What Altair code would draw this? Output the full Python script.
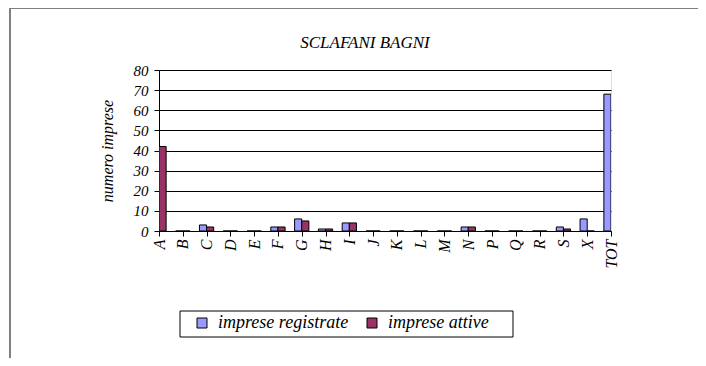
import altair as alt
import pandas as pd

categories = ["A", "B", "C", "D", "E", "F", "G", "H", "I", "J", "K", "L", "M",
              "N", "P", "Q", "R", "S", "X", "TOT"]
registrate = [0, 0, 3, 0, 0, 2, 6, 1, 4, 0, 0, 0, 0, 2, 0, 0, 0, 2, 6, 68]
attive = [42, 0, 2, 0, 0, 2, 5, 1, 4, 0, 0, 0, 0, 2, 0, 0, 0, 1, 0, 0]
series_names = ["imprese registrate", "imprese attive"]
series_colors = ["#9999FF", "#993366"]
y_ticks = [0, 10, 20, 30, 40, 50, 60, 70, 80]
chart_title = "SCLAFANI BAGNI"

rows = []
for i, c in enumerate(categories):
    rows.append({"cat": c, "idx": i, "serie": series_names[0], "sidx": 0, "value": registrate[i]})
    rows.append({"cat": c, "idx": i, "serie": series_names[1], "sidx": 1, "value": attive[i]})
df = pd.DataFrame(rows)

FONT = "Liberation Serif, Times New Roman, serif"
W, H = 452, 161
label_expr = "[" + ",".join("'%s'" % c for c in categories) + "][datum.value]"

bars = alt.Chart(df).transform_calculate(
    x0="datum.idx + (datum.sidx == 0 ? -0.3 : 0)",
    x1="datum.idx + (datum.sidx == 0 ? 0 : 0.3)",
).mark_bar(clip=True, stroke="black", strokeWidth=1).encode(
    x=alt.X("x0:Q", scale=alt.Scale(domain=[0, len(categories) - 1], nice=False, zero=False),
            axis=alt.Axis(values=list(range(len(categories))), labelExpr=label_expr,
                          labelAngle=270, grid=False, title=None, tickSize=5,
                          labelFont=FONT, labelFontStyle="italic", labelFontSize=16,
                          labelColor="black", domainColor="black", tickColor="black",
                          labelPadding=3)),
    x2="x1:Q",
    y=alt.Y("value:Q", scale=alt.Scale(domain=[0, 80], nice=False),
            axis=alt.Axis(values=y_ticks, title="numero imprese", grid=True,
                          gridColor="black", gridWidth=1, tickSize=5,
                          labelFont=FONT, labelFontStyle="italic", labelFontSize=15,
                          labelColor="black", domainColor="black", tickColor="black",
                          titleFont=FONT, titleFontStyle="italic", titleFontWeight="normal",
                          titleFontSize=16, titleColor="black", titlePadding=18,
                          labelPadding=6)),
    y2=alt.datum(0),
    color=alt.Color("serie:N", scale=alt.Scale(domain=series_names, range=series_colors),
                    legend=alt.Legend(orient="none", legendX=34, legendY=244,
                                      direction="horizontal", title=None,
                                      symbolType="square", symbolSize=100,
                                      symbolStrokeColor="black", symbolStrokeWidth=1,
                                      labelFont=FONT, labelFontStyle="italic",
                                      labelFontSize=18, labelColor="black",
                                      labelOffset=7, columnPadding=14, padding=0)),
)

deco = pd.DataFrame({"a": [0]})
legend_box = alt.Chart(deco).mark_rect(fill="white", stroke="black", strokeWidth=1).encode(
    x=alt.value(21), x2=alt.value(354), y=alt.value(241), y2=alt.value(267))
frame_top = alt.Chart(deco).mark_rule(color="#808080", strokeWidth=2).encode(
    x=alt.value(-150), x2=alt.value(560), y=alt.value(-62))
frame_left = alt.Chart(deco).mark_rule(color="#808080", strokeWidth=2).encode(
    x=alt.value(-149), y=alt.value(-62), y2=alt.value(300))
title_text = alt.Chart(pd.DataFrame({"t": [chart_title]})).mark_text(
    font=FONT, fontSize=17, fontStyle="italic", color="black", align="center",
    baseline="alphabetic").encode(x=alt.value(206), y=alt.value(-22), text="t:N")

chart = alt.layer(frame_top, frame_left, legend_box, title_text, bars).properties(
    width=W, height=H,
    autosize=alt.AutoSizeParams(type="none"),
    padding={"left": 151, "top": 62, "right": 87, "bottom": 127},
).configure_view(stroke="#808080", strokeWidth=1).configure(background="white")

chart.save("out.html", embed_options={"renderer": "svg", "actions": False})
